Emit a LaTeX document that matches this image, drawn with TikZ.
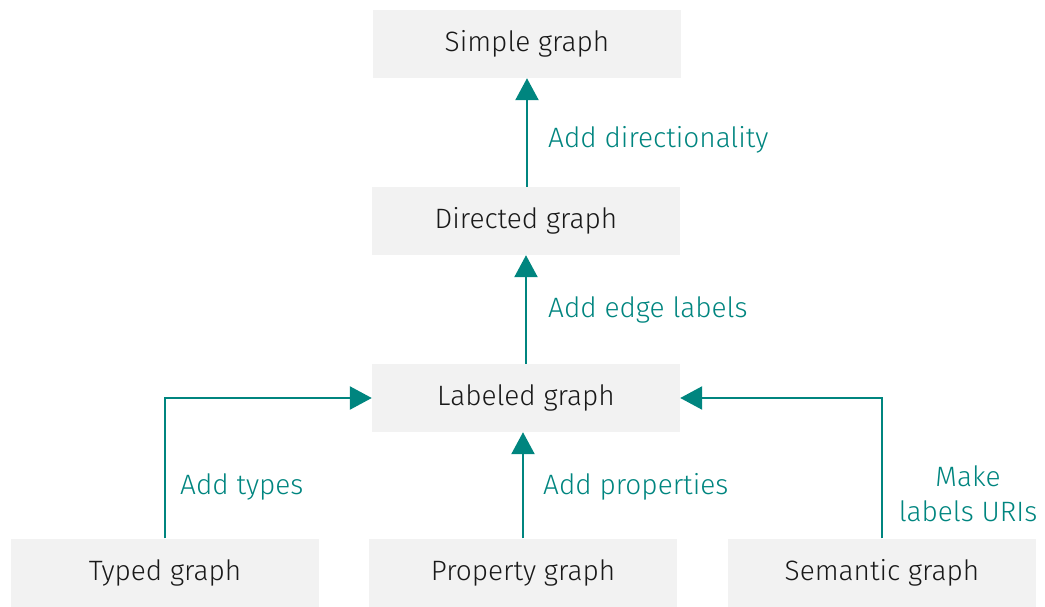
\documentclass[tikz,border=0pt]{standalone}
\usepackage{fontspec}
\setmainfont{Fira Sans Light}
\usetikzlibrary{arrows.meta}
\definecolor{teal1}{RGB}{0,133,127}
\definecolor{boxgray}{RGB}{242,242,242}
\begin{document}
\begin{tikzpicture}[x=1pt,y=-1pt,
  gbox/.style={fill=boxgray, minimum width=308pt, minimum height=68pt, inner sep=0pt, font=\fontsize{28}{34}\selectfont, text=black!90},
  conn/.style={draw=teal1, line width=2.4pt, -{Triangle[width=23pt,length=22pt]}},
  elabel/.style={text=teal1, font=\fontsize{28}{35}\selectfont, inner sep=0pt}]
\useasboundingbox (0,0) rectangle (1045,606);
\node[gbox] (simple) at (527,44) {Simple graph};
\node[gbox] (directed) at (526,221) {Directed graph};
\node[gbox] (labeled) at (526,398) {Labeled graph};
\node[gbox] (typed) at (165,572.5) {Typed graph};
\node[gbox] (property) at (523,572.5) {Property graph};
\node[gbox] (semantic) at (882,572.5) {Semantic graph};
\draw[conn] (directed.north -| simple.south) -- (simple.south);
\draw[conn] (labeled.north) -- (directed.south);
\draw[conn] (typed.north) |- (labeled.west);
\draw[conn] (property.north) -- (property.north |- labeled.south);
\draw[conn] (semantic.north) |- (labeled.east);
\node[elabel, anchor=west] (l1) at (548,140) {Add directionality};
\node[elabel, anchor=west] (l2) at (548,310) {Add edge labels};
\node[elabel, anchor=west] (l3) at (180,487) {Add types};
\node[elabel, anchor=west] (l4) at (543,487) {Add properties};
\node[elabel, align=center] (l5) at (968,494) {Make\\labels URIs};
\end{tikzpicture}
\end{document}
